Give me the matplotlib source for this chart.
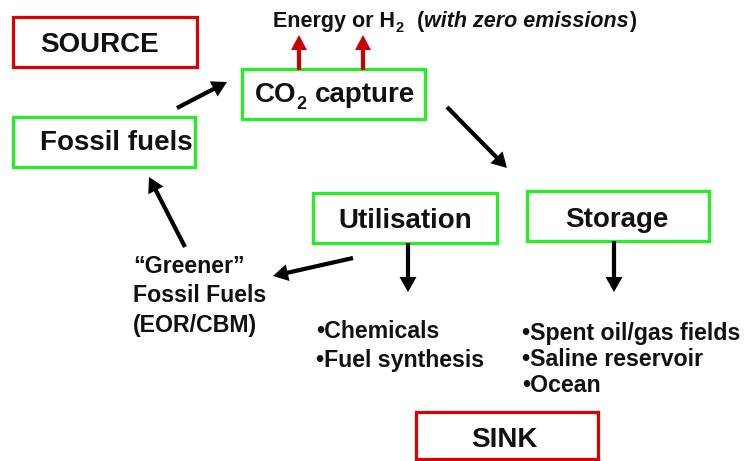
"""Recreate the CO2 source-to-sink flow diagram."""

from __future__ import annotations

import matplotlib

matplotlib.use("Agg", force=True)
import matplotlib.pyplot as plt
from matplotlib.patches import Rectangle

# Boxes: label, (left, top, right, bottom) in pixels, text x, text baseline, align, edge colour
BOX_LABELS = ["SOURCE", "Fossil fuels", "", "Utilisation", "Storage", "SINK"]
BOX_EXTENTS = [
    (13, 17, 197, 67),
    (13, 117, 195, 167),
    (242, 69, 425, 119),
    (313, 193, 497, 243),
    (527, 191, 709, 241),
    (416, 412, 598, 459),
]
BOX_TEXT_X = [40, 40, 0, 405, 617, 504]
BOX_TEXT_BASELINE = [52, 150, 102, 228, 227, 447]
BOX_TEXT_ALIGN = ["left", "left", "left", "center", "center", "center"]
BOX_COLORS = ["red", "green", "green", "green", "green", "red"]

# Text runs with a subscript: (text, left x, baseline, size, style)
CAPTURE_RUNS = [
    ("CO", 255, 102, 20, "normal"),
    ("2", 296, 109, 13, "normal"),
    ("capture", 315, 102, 20, "normal"),
]
ENERGY_RUNS = [
    ("Energy or H", 273, 27, 15.5, "normal"),
    ("2", 396, 32, 10.5, "normal"),
    ("(", 417, 27, 15.5, "normal"),
    ("with zero emissions", 424, 27, 15.5, "italic"),
    (")", 629, 27, 15.5, "normal"),
]

# Plain text blocks: lines, left x, baselines
GREENER_LINES = ["\u201cGreener\u201d", "Fossil Fuels", "(EOR/CBM)"]
GREENER_BASELINES = [273, 302, 332]
UTIL_LINES = ["\u2022Chemicals", "\u2022Fuel synthesis"]
UTIL_BASELINES = [338, 367]
STORAGE_LINES = ["\u2022Spent oil/gas fields", "\u2022Saline reservoir", "\u2022Ocean"]
STORAGE_BASELINES = [340, 366, 392]

# Arrows: (tail, tip)
BLACK_ARROWS = [
    ((177, 108), (227, 82)),
    ((447, 107), (507, 168)),
    ((408, 243), (408, 292)),
    ((614, 241), (614, 292)),
    ((185, 247), (149, 177)),
    ((353, 258), (273, 276)),
]
RED_ARROWS = [
    ((299, 70), (299, 35)),
    ((363, 70), (363, 35)),
]

EDGE = {"red": "#DD0000", "green": "#22F022"}
INK = "#111111"


def _arrow(ax, tail, tip, color, width, head_width, head_length):
    ax.arrow(
        tail[0], tail[1], tip[0] - tail[0], tip[1] - tail[1],
        width=width, head_width=head_width, head_length=head_length,
        length_includes_head=True, facecolor=color, edgecolor="none",
        linewidth=0, zorder=4,
    )


def main() -> None:
    plt.rcParams["font.family"] = ["Liberation Sans", "DejaVu Sans"]

    fig = plt.figure(figsize=(7.5, 4.61), dpi=100)
    ax = fig.add_axes([0, 0, 1, 1])
    ax.set_xlim(0, 750)
    ax.set_ylim(461, 0)
    ax.axis("off")

    for label, (x0, y0, x1, y1), tx, ty, ha, col in zip(
        BOX_LABELS, BOX_EXTENTS, BOX_TEXT_X, BOX_TEXT_BASELINE, BOX_TEXT_ALIGN, BOX_COLORS
    ):
        ax.add_patch(
            Rectangle((x0, y0), x1 - x0, y1 - y0, fill=False,
                      edgecolor=EDGE[col], linewidth=2.3, zorder=2)
        )
        if label:
            ax.text(tx, ty, label, ha=ha, va="baseline", fontsize=20,
                    fontweight="bold", color=INK, zorder=3)

    for runs in (CAPTURE_RUNS, ENERGY_RUNS):
        for text, x, y, size, style in runs:
            ax.text(x, y, text, ha="left", va="baseline", fontsize=size,
                    fontweight="bold", fontstyle=style, color=INK, zorder=3)

    for lines, baselines, x in (
        (GREENER_LINES, GREENER_BASELINES, 133),
        (UTIL_LINES, UTIL_BASELINES, 316),
        (STORAGE_LINES, STORAGE_BASELINES, 522),
    ):
        for line, y in zip(lines, baselines):
            ax.text(x, y, line, ha="left", va="baseline", fontsize=16.7,
                    fontweight="bold", color=INK)

    for tail, tip in BLACK_ARROWS:
        _arrow(ax, tail, tip, "black", 4.2, 17, 15)
    for tail, tip in RED_ARROWS:
        _arrow(ax, tail, tip, "#CC0000", 4.2, 16, 15)

    fig.savefig("out.png", dpi=100, facecolor="white")
    plt.close(fig)


if __name__ == "__main__":
    main()
